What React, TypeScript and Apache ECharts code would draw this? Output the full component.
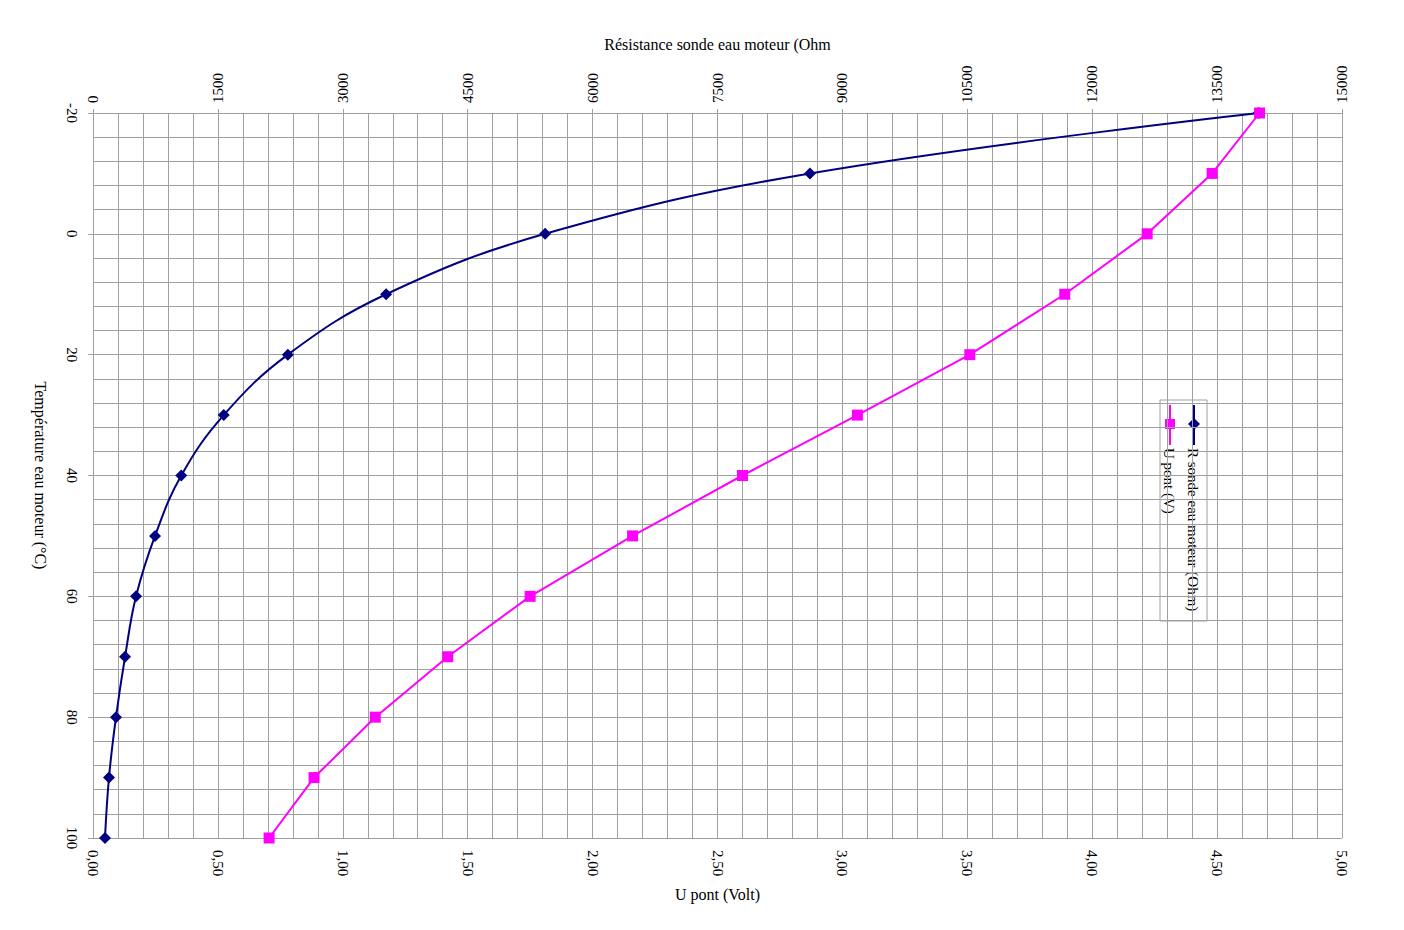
import React, { useEffect, useRef } from "react";
import * as echarts from "echarts";

const temperatures = [-20, -10, 0, 10, 20, 30, 40, 50, 60, 70, 80, 90, 100];
const resistance = [14000, 8610, 5430, 3520, 2340, 1570, 1060, 745, 517, 385, 276, 192, 144];
const uPont = [4.67, 4.48, 4.22, 3.89, 3.51, 3.06, 2.6, 2.16, 1.75, 1.42, 1.13, 0.885, 0.705];

const seriesNames = ["R sonde eau moteur (Ohm)", "U pont (V)"];
const axisNames = {
  top: "Résistance sonde eau moteur (Ohm",
  bottom: "U pont (Volt)",
  left: "Température eau moteur (°C)",
};

const FONT = "'Liberation Serif', 'Times New Roman', serif";
const NAVY = "#000080";
const MAGENTA = "#FF00FF";
const GRID = "#a0a0a0";

export default function App() {
  const ref = useRef<HTMLDivElement>(null);
  useEffect(() => {
    if (!ref.current) return;
    const chart = echarts.init(ref.current, null, { renderer: "svg" });
    const labelStyle = { color: "#000", fontFamily: FONT, fontSize: 15 };
    const nameStyle = { color: "#000", fontFamily: FONT, fontSize: 16 };
    const legendGroup = {
      type: "group",
      x: 1207,
      y: 400,
      rotation: -Math.PI / 2,
      children: [
        {
          type: "rect",
          shape: { x: 0, y: 0, width: 221, height: 47 },
          style: { fill: "#fff", stroke: "#a0a0a0", lineWidth: 1 },
        },
        {
          type: "line",
          shape: { x1: 5, y1: 13, x2: 45, y2: 13 },
          style: { stroke: NAVY, lineWidth: 2 },
        },
        {
          type: "polygon",
          shape: { points: [[24, 7], [30, 13], [24, 19], [18, 13]] },
          style: { fill: NAVY },
        },
        {
          type: "text",
          x: 48,
          y: 14,
          style: { text: seriesNames[0], font: `15px ${FONT}`, fill: "#000", verticalAlign: "middle", align: "left" },
        },
        {
          type: "line",
          shape: { x1: 5, y1: 37, x2: 45, y2: 37 },
          style: { stroke: MAGENTA, lineWidth: 2 },
        },
        {
          type: "rect",
          shape: { x: 19, y: 32, width: 10, height: 10 },
          style: { fill: MAGENTA },
        },
        {
          type: "text",
          x: 48,
          y: 38,
          style: { text: seriesNames[1], font: `15px ${FONT}`, fill: "#000", verticalAlign: "middle", align: "left" },
        },
      ],
    };
    chart.setOption({
      animation: false,
      backgroundColor: "#fff",
      grid: { left: 93, right: 62, top: 113, bottom: 92, containLabel: false },
      xAxis: [
        {
          type: "value",
          position: "bottom",
          min: 0,
          max: 5,
          interval: 0.5,
          name: axisNames.bottom,
          nameLocation: "middle",
          nameGap: 48,
          nameTextStyle: nameStyle,
          axisLine: { show: true, lineStyle: { color: GRID } },
          axisTick: { show: true, length: 4, lineStyle: { color: GRID } },
          axisLabel: {
            ...labelStyle,
            rotate: -90,
            margin: 12,
            formatter: (v: number) => v.toFixed(2).replace(".", ","),
          },
          splitLine: { show: true, lineStyle: { color: GRID, width: 1 } },
          minorTick: { show: false, splitNumber: 5 },
          minorSplitLine: { show: true, lineStyle: { color: GRID, width: 1 } },
        },
        {
          type: "value",
          position: "top",
          min: 0,
          max: 15000,
          interval: 1500,
          name: axisNames.top,
          nameLocation: "middle",
          nameGap: 61,
          nameTextStyle: nameStyle,
          axisLine: { show: true, lineStyle: { color: GRID } },
          axisTick: { show: true, length: 4, lineStyle: { color: GRID } },
          axisLabel: { ...labelStyle, rotate: -90, margin: 10, formatter: (v: number) => String(v) },
          splitLine: { show: false },
        },
      ],
      yAxis: {
        type: "value",
        inverse: true,
        min: -20,
        max: 100,
        interval: 20,
        name: axisNames.left,
        nameLocation: "middle",
        nameRotate: -90,
        nameGap: 45,
        nameTextStyle: nameStyle,
        axisLine: { show: true, lineStyle: { color: GRID } },
        axisTick: { show: true, length: 5, lineStyle: { color: GRID } },
        axisLabel: { ...labelStyle, rotate: -90, margin: 14 },
        splitLine: { show: true, lineStyle: { color: GRID, width: 1 } },
        minorTick: { show: false, splitNumber: 5 },
        minorSplitLine: { show: true, lineStyle: { color: GRID, width: 1 } },
      },
      series: [
        {
          name: seriesNames[0],
          type: "line",
          xAxisIndex: 1,
          data: temperatures.map((t, i) => [resistance[i], t]),
          smooth: 0.4,
          symbol: "diamond",
          symbolSize: 12,
          lineStyle: { color: NAVY, width: 2 },
          itemStyle: { color: NAVY },
          z: 3,
        },
        {
          name: seriesNames[1],
          type: "line",
          xAxisIndex: 0,
          data: temperatures.map((t, i) => [uPont[i], t]),
          symbol: "rect",
          symbolSize: 11,
          lineStyle: { color: MAGENTA, width: 2 },
          itemStyle: { color: MAGENTA },
          z: 4,
        },
      ],
      graphic: [legendGroup],
    });
    return () => chart.dispose();
  }, []);
  return (
    <div
      ref={ref}
      style={{ position: "fixed", left: 0, top: 0, width: 1404, height: 930, background: "#fff" }}
    />
  );
}
